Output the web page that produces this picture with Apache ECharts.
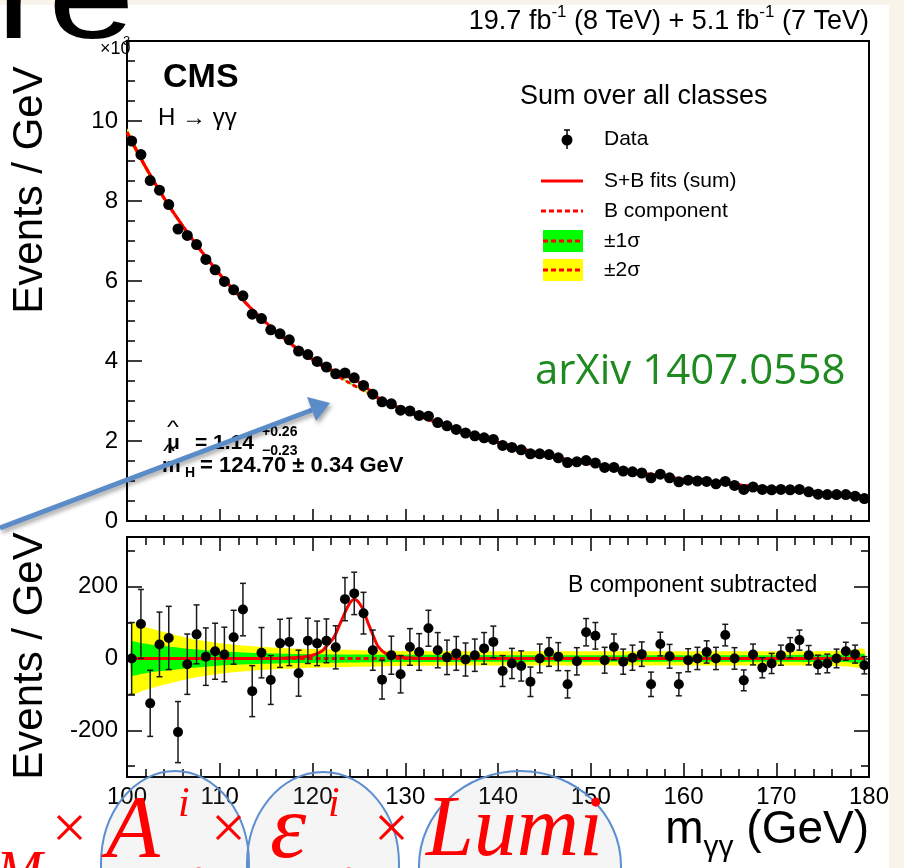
<!DOCTYPE html>
<html>
<head>
<meta charset="utf-8">
<script src="https://cdn.jsdelivr.net/npm/echarts@6/dist/echarts.min.js"></script>
<style>
html,body{margin:0;padding:0;background:#ffffff;}
#chart{width:904px;height:868px;}
</style>
</head>
<body>
<div id="chart"></div>
<script>
// ---------------- data ----------------
const massBins = [100.5,101.5,102.5,103.5,104.5,105.5,106.5,107.5,108.5,109.5,
  110.5,111.5,112.5,113.5,114.5,115.5,116.5,117.5,118.5,119.5,
  120.5,121.5,122.5,123.5,124.5,125.5,126.5,127.5,128.5,129.5,
  130.5,131.5,132.5,133.5,134.5,135.5,136.5,137.5,138.5,139.5,
  140.5,141.5,142.5,143.5,144.5,145.5,146.5,147.5,148.5,149.5,
  150.5,151.5,152.5,153.5,154.5,155.5,156.5,157.5,158.5,159.5,
  160.5,161.5,162.5,163.5,164.5,165.5,166.5,167.5,168.5,169.5,
  170.5,171.5,172.5,173.5,174.5,175.5,176.5,177.5,178.5,179.5];
// top panel: events / GeV in units of 10^3
const eventsK = [9.50,9.16,8.51,8.27,7.91,7.30,7.14,6.91,6.54,6.28,
  5.99,5.78,5.63,5.17,5.06,4.78,4.68,4.53,4.25,4.16,
  3.99,3.85,3.68,3.70,3.58,3.39,3.17,2.98,2.93,2.77,
  2.75,2.64,2.62,2.46,2.38,2.29,2.20,2.13,2.08,2.04,
  1.89,1.84,1.78,1.68,1.68,1.66,1.58,1.46,1.48,1.51,
  1.45,1.34,1.34,1.25,1.23,1.20,1.08,1.17,1.08,0.98,
  1.02,1.00,0.99,0.93,0.99,0.89,0.79,0.85,0.79,0.78,
  0.79,0.78,0.79,0.73,0.67,0.66,0.66,0.66,0.62,0.56];
// bottom panel: B component subtracted
const residuals = [0,96,-125,39,57,-205,-16,67,5,20,
  11,59,136,-91,16,-60,42,46,-41,49,
  42,49,31,165,181,126,23,-59,9,-44,
  32,18,84,23,3,14,-3,9,28,46,
  -35,-14,-21,-65,0,18,5,-72,-8,73,
  63,-5,32,-9,2,12,-72,40,6,-72,
  -5,0,18,0,65,0,-61,11,-26,-14,
  9,30,51,9,-17,-14,0,20,12,-19];
const residErr = [100,96,92,90,88,85,84,82,80,78,
  76,75,73,71,70,68,67,66,64,63,
  62,61,60,60,59,58,56,54,53,52,
  51,51,50,49,48,47,46,45,44,44,
  43,42,42,41,40,40,39,38,38,38,
  37,36,36,35,35,34,34,33,33,32,
  32,31,31,31,30,30,29,29,28,28,
  28,28,28,27,26,26,26,25,25,24];
// B component fit (top panel, 10^3 events / GeV)
const bkgX = [100,102,104,106,108,110,112,114,116,118,120,122,124,126,128,130,132,134,136,138,
  140,142,144,146,148,150,152,154,156,158,160,162,164,166,168,170,172,174,176,178,180];
const bkgY = [9.72,8.85,8.07,7.38,6.75,6.17,5.65,5.17,4.75,4.37,4.03,3.73,3.45,3.20,2.96,2.76,2.58,2.41,2.25,2.11,
  1.97,1.84,1.72,1.61,1.51,1.43,1.34,1.26,1.18,1.11,1.04,0.99,0.94,0.90,0.85,0.81,0.77,0.73,0.69,0.65,0.61];
// S+B fit (top panel)
const sbX = [100,102,104,106,108,110,112,114,116,118,
  120,121,121.5,122.25,123,123.9,124.5,125.3,126,126.6,127.1,128,
  130,132,134,136,138,140,142,144,146,148,150,152,154,156,158,160,162,164,166,168,170,172,174,176,178,180];
const sbY = [9.72,8.85,8.07,7.38,6.75,6.17,5.65,5.17,4.75,4.37,
  4.04,3.90,3.83,3.76,3.69,3.60,3.55,3.42,3.30,3.17,3.08,2.97,
  2.76,2.58,2.41,2.25,2.11,1.97,1.84,1.72,1.61,1.51,1.43,1.34,1.26,1.18,1.11,1.04,0.99,0.94,0.90,0.85,0.81,0.77,0.73,0.69,0.65,0.61];
// uncertainty bands (events / GeV, half widths)
const bandX = [100.5,101.5,102.5,103.5,104.5,106.5,108.5,110.5,113,116,120,125,130,140,150,160,170,176,178,179.5];
const band1 = [47,43,39,36,33,27,23,19,16,14,12,11,10,9,9,9,9,10,11,12];
const band2 = [101,92,84,77,70,57,48,41,35,30,26,23,21,20,20,20,20,21,23,26];
// signal component (bottom panel)
const sigX = [100.5,116,118,119,120,121,121.5,122.25,123,123.9,124.5,125.3,126,126.6,127.1,128,129,130,132,179.5];
const sigY = [0,0,2,4,9,20,34,56,98,149,165,144,98,60,32,12,5,2,0,0];
const bZeroX = [100.5,179.5];
const bZeroY = [0,0];
// ticks
const xMajor = [100,110,120,130,140,150,160,170,180];
const xMinor = [102,104,106,108,112,114,116,118,122,124,126,128,132,134,136,138,142,144,146,148,152,154,156,158,162,164,166,168,172,174,176,178];
const topYMajor = [0,2,4,6,8,10];
const topYMinor = [0.5,1,1.5,2.5,3,3.5,4.5,5,5.5,6.5,7,7.5,8.5,9,9.5,10.5,11,11.5];
const botYMajor = [-200,0,200];
const botYMinor = [-300,-100,100,300];

// ---------------- helpers ----------------
const SANS = '"Liberation Sans", Arial, Helvetica, sans-serif';
const SERIF = '"Liberation Serif", "Times New Roman", serif';
const mctx = document.createElement('canvas').getContext('2d');
function textW(t, font) { mctx.font = font; return mctx.measureText(t).width; }
function T(text, x, y, font, opts) {
  opts = opts || {};
  return { type: 'text', z: opts.z || 50, x: x, y: y, rotation: opts.rot || 0,
    scaleX: opts.sx || 1, scaleY: opts.sy || 1,
    style: { text: text, font: font, fill: opts.fill || '#000',
      textAlign: opts.align || 'left', textVerticalAlign: 'middle' } };
}
function run(parts, x, align, fill, z) {
  const total = parts.reduce((s, p) => s + textW(p[0], p[1]), 0);
  let cx = align === 'right' ? x - total : x;
  return parts.map(p => { const el = T(p[0], cx, p[2], p[1], { fill: fill, z: z }); cx += textW(p[0], p[1]); return el; });
}
function interp(xs, ys, x) {
  if (x <= xs[0]) return ys[0];
  for (let i = 1; i < xs.length; i++) if (x <= xs[i]) {
    const t = (x - xs[i - 1]) / (xs[i] - xs[i - 1]); return ys[i - 1] + t * (ys[i] - ys[i - 1]);
  }
  return ys[ys.length - 1];
}
function xAx(grid, pos, vals, len, label) {
  return { type: 'value', gridIndex: grid, position: pos, min: 100, max: 180,
    axisLine: { show: false, onZero: false }, splitLine: { show: false },
    axisTick: { show: true, inside: true, length: len, customValues: vals, lineStyle: { color: '#000', width: 1.5 } },
    axisLabel: label ? { show: true, customValues: vals, fontFamily: SANS, fontSize: 24, color: '#000', margin: 8 } : { show: false } };
}
function yAx(grid, pos, min, max, vals, len, label) {
  return { type: 'value', gridIndex: grid, position: pos, min: min, max: max,
    axisLine: { show: false, onZero: false }, splitLine: { show: false },
    axisTick: { show: true, inside: true, length: len, customValues: vals, lineStyle: { color: '#000', width: 1.5 } },
    axisLabel: label ? { show: true, customValues: vals, fontFamily: SANS, fontSize: 24, color: '#000', margin: 9 } : { show: false } };
}
function bandSeries(xi, yi, xs, center, half, scale, color, z) {
  return { type: 'custom', xAxisIndex: xi, yAxisIndex: yi, z: z, silent: true, clip: true,
    data: [[140, 0]],
    renderItem: function (params, api) {
      const pts = [];
      for (let i = 0; i < xs.length; i++) pts.push(api.coord([xs[i], center(i) + interp(bandX, half, xs[i]) / scale]));
      for (let i = xs.length - 1; i >= 0; i--) pts.push(api.coord([xs[i], center(i) - interp(bandX, half, xs[i]) / scale]));
      return { type: 'polygon', shape: { points: pts, smooth: 0.2 }, style: { fill: color } };
    } };
}
const RED = '#ff0000', GREEN = '#00ff00', YELLOW = '#ffff00';

// ---------------- graphics (texts, legend, annotations) ----------------
const g = [];
g.push({ type: 'rect', z: 1, shape: { x: 0, y: 0, width: 904, height: 5 }, style: { fill: '#f8f4ec' } });
g.push({ type: 'rect', z: 1, shape: { x: 889, y: 0, width: 15, height: 868 }, style: { fill: '#f8f4ec' } });
// axis titles
g.push(T('Events / GeV', 30, 190, '42px ' + SANS, { rot: Math.PI / 2, align: 'center' }));
g.push(T('Events / GeV', 30, 656, '42px ' + SANS, { rot: Math.PI / 2, align: 'center' }));
run([['m', '46px ' + SANS, 830], ['γγ', '30px ' + SANS, 848], [' (GeV)', '46px ' + SANS, 830]], 869, 'right').forEach(e => g.push(e));
// header
run([['19.7 fb', '27px ' + SANS, 22], ['-1', '17px ' + SANS, 12], [' (8 TeV) + 5.1 fb', '27px ' + SANS, 22], ['-1', '17px ' + SANS, 12], [' (7 TeV)', '27px ' + SANS, 22]], 869, 'right').forEach(e => g.push(e));
g.push(T('×10', 100, 49, '18px ' + SANS, { z: 80 }));
g.push(T('3', 123, 41, '13px ' + SANS, { z: 80 }));
g.push(T('CMS', 163, 78, 'bold 34px ' + SANS));
g.push(T('H → γγ', 158, 118, '24px ' + SANS));
// legend
g.push(T('Sum over all classes', 520, 97, '27px ' + SANS));
g.push({ type: 'line', z: 50, shape: { x1: 567, y1: 130, x2: 567, y2: 149 }, style: { stroke: '#000', lineWidth: 1.5 } });
g.push({ type: 'line', z: 50, shape: { x1: 564, y1: 130, x2: 570, y2: 130 }, style: { stroke: '#000', lineWidth: 1.5 } });
g.push({ type: 'circle', z: 51, shape: { cx: 567, cy: 140, r: 5.5 }, style: { fill: '#000' } });
g.push(T('Data', 604, 139, '21px ' + SANS));
g.push({ type: 'line', z: 50, shape: { x1: 541, y1: 181, x2: 583, y2: 181 }, style: { stroke: RED, lineWidth: 3 } });
g.push(T('S+B fits (sum)', 604, 181, '21px ' + SANS));
g.push({ type: 'line', z: 50, shape: { x1: 541, y1: 211, x2: 583, y2: 211 }, style: { stroke: RED, lineWidth: 3, lineDash: [5, 3] } });
g.push(T('B component', 604, 211, '21px ' + SANS));
g.push({ type: 'rect', z: 50, shape: { x: 543, y: 230, width: 40, height: 22 }, style: { fill: GREEN } });
g.push({ type: 'line', z: 51, shape: { x1: 543, y1: 241, x2: 583, y2: 241 }, style: { stroke: RED, lineWidth: 3, lineDash: [5, 3] } });
g.push(T('±1σ', 604, 241, '21px ' + SANS));
g.push({ type: 'rect', z: 50, shape: { x: 543, y: 259, width: 40, height: 22 }, style: { fill: YELLOW } });
g.push({ type: 'line', z: 51, shape: { x1: 543, y1: 270, x2: 583, y2: 270 }, style: { stroke: RED, lineWidth: 3, lineDash: [5, 3] } });
g.push(T('±2σ', 604, 270, '21px ' + SANS));
// fit results
g.push(T('μ', 167, 443, 'bold 21px ' + SANS));
g.push(T('^', 167, 428, '18px ' + SANS, { sx: 1.4 }));
g.push(T('= 1.14', 195, 443, 'bold 21px ' + SANS));
g.push(T('+0.26', 262, 432, 'bold 14px ' + SANS));
g.push(T('−0.23', 262, 451, 'bold 14px ' + SANS));
g.push(T('m', 162, 466, 'bold 21px ' + SANS));
g.push(T('^', 163, 452, '18px ' + SANS, { sx: 1.4 }));
g.push(T('H', 185, 473, 'bold 14px ' + SANS));
g.push(T('= 124.70 ± 0.34 GeV', 200, 466, 'bold 22px ' + SANS));
g.push(T('B component subtracted', 568, 586, '23px ' + SANS));
// annotations on the slide
g.push(T('arXiv 1407.0558', 535, 372, '42px "Open Sans", ' + SANS, { fill: '#1f8a1f' }));
g.push({ type: 'line', z: 60, shape: { x1: 0, y1: 528, x2: 312, y2: 410 },
  style: { stroke: '#5b8cc8', lineWidth: 5, shadowBlur: 4, shadowOffsetX: 2, shadowOffsetY: 3, shadowColor: 'rgba(0,0,0,0.35)' } });
g.push({ type: 'polygon', z: 60, shape: { points: [[330, 403], [307, 397], [316, 421]] },
  style: { fill: '#5b8cc8', shadowBlur: 4, shadowOffsetX: 2, shadowOffsetY: 3, shadowColor: 'rgba(0,0,0,0.35)' } });
[[175, 864, 74, 93], [323, 864, 76, 92], [520, 866, 101, 95]].forEach(e => {
  g.push({ type: 'ellipse', z: 60, shape: { cx: e[0], cy: e[1], rx: e[2], ry: e[3] },
    style: { stroke: '#5b8fd0', lineWidth: 2, fill: 'rgba(160,160,160,0.10)' } });
});
g.push(T('M', -4, 875, 'italic 56px ' + SERIF, { fill: RED, z: 70 }));
g.push(T('×', 52, 832, '62px ' + SERIF, { fill: RED, z: 70 }));
g.push(T('A', 106, 833, 'italic 88px ' + SERIF, { fill: RED, z: 70 }));
g.push(T('i', 178, 805, 'italic 42px ' + SERIF, { fill: RED, z: 70 }));
g.push(T('n', 184, 876, 'italic 42px ' + SERIF, { fill: RED, z: 70 }));
g.push(T('×', 211, 832, '62px ' + SERIF, { fill: RED, z: 70 }));
g.push(T('ε', 270, 833, 'italic 92px ' + SERIF, { fill: RED, z: 70 }));
g.push(T('i', 328, 805, 'italic 42px ' + SERIF, { fill: RED, z: 70 }));
g.push(T('n', 334, 876, 'italic 42px ' + SERIF, { fill: RED, z: 70 }));
g.push(T('×', 374, 832, '62px ' + SERIF, { fill: RED, z: 70 }));
g.push(T('Lumi', 426, 832, 'italic 86px ' + SERIF, { fill: RED, z: 70 }));
g.push(T('re', -4, 5, '120px ' + SANS, { z: 70, sx: 1.3 }));

// ---------------- chart ----------------
const chart = echarts.init(document.getElementById('chart'), null, { renderer: 'canvas' });
const option = {
  animation: false,
  backgroundColor: '#ffffff',
  grid: [
    { left: 127, top: 41, width: 742, height: 480, show: true, borderColor: '#000', borderWidth: 2, backgroundColor: '#fff' },
    { left: 127, top: 537, width: 742, height: 240, show: true, borderColor: '#000', borderWidth: 2, backgroundColor: '#fff' }
  ],
  xAxis: [
    xAx(0, 'bottom', xMajor, 12, false),
    xAx(0, 'bottom', xMinor, 6, false),
    xAx(1, 'bottom', xMajor, 14, true),
    xAx(1, 'bottom', xMinor, 8, false),
    xAx(1, 'top', xMajor, 14, false),
    xAx(1, 'top', xMinor, 8, false)
  ],
  yAxis: [
    yAx(0, 'left', 0, 12, topYMajor, 15, true),
    yAx(0, 'left', 0, 12, topYMinor, 8, false),
    yAx(1, 'left', -330, 338, botYMajor, 15, true),
    yAx(1, 'left', -330, 338, botYMinor, 8, false),
    yAx(1, 'right', -330, 338, botYMajor, 15, false),
    yAx(1, 'right', -330, 338, botYMinor, 8, false)
  ],
  graphic: { elements: g },
  series: [
    // top panel
    bandSeries(0, 0, bkgX, i => bkgY[i], band2, 1000, YELLOW, 2),
    bandSeries(0, 0, bkgX, i => bkgY[i], band1, 1000, GREEN, 3),
    { type: 'line', xAxisIndex: 0, yAxisIndex: 0, z: 4, symbol: 'none', smooth: 0.3,
      data: bkgX.map((x, i) => [x, bkgY[i]]), lineStyle: { color: RED, width: 3, type: [5, 3] } },
    { type: 'line', xAxisIndex: 0, yAxisIndex: 0, z: 5, symbol: 'none', smooth: 0.3,
      data: sbX.map((x, i) => [x, sbY[i]]), lineStyle: { color: RED, width: 3 } },
    { type: 'scatter', xAxisIndex: 0, yAxisIndex: 0, z: 6, symbol: 'circle', symbolSize: 11,
      itemStyle: { color: '#000', opacity: 1 }, data: massBins.map((x, i) => [x, eventsK[i]]) },
    // bottom panel
    bandSeries(2, 2, bandX, i => 0, band2, 1, YELLOW, 2),
    bandSeries(2, 2, bandX, i => 0, band1, 1, GREEN, 3),
    { type: 'line', xAxisIndex: 2, yAxisIndex: 2, z: 4, symbol: 'none',
      data: bZeroX.map((x, i) => [x, bZeroY[i]]), lineStyle: { color: RED, width: 3, type: [5, 3] } },
    { type: 'line', xAxisIndex: 2, yAxisIndex: 2, z: 5, symbol: 'none', smooth: 0.3,
      data: sigX.map((x, i) => [x, sigY[i]]), lineStyle: { color: RED, width: 3 } },
    { type: 'custom', xAxisIndex: 2, yAxisIndex: 2, z: 6, clip: true,
      data: massBins.map((x, i) => [x, residuals[i], residErr[i]]),
      encode: { x: 0, y: 1 },
      renderItem: function (params, api) {
        const x = api.value(0), y = api.value(1), e = api.value(2);
        const hi = api.coord([x, y + e]), lo = api.coord([x, y - e]);
        const st = { stroke: '#1a1a1a', lineWidth: 1.5 };
        return { type: 'group', children: [
          { type: 'line', shape: { x1: hi[0], y1: hi[1], x2: lo[0], y2: lo[1] }, style: st },
          { type: 'line', shape: { x1: hi[0] - 3, y1: hi[1], x2: hi[0] + 3, y2: hi[1] }, style: st },
          { type: 'line', shape: { x1: lo[0] - 3, y1: lo[1], x2: lo[0] + 3, y2: lo[1] }, style: st }
        ] };
      } },
    { type: 'scatter', xAxisIndex: 2, yAxisIndex: 2, z: 7, symbol: 'circle', symbolSize: 10,
      itemStyle: { color: '#000', opacity: 1 }, data: massBins.map((x, i) => [x, residuals[i]]) }
  ]
};
chart.setOption(option);
</script>
</body>
</html>
